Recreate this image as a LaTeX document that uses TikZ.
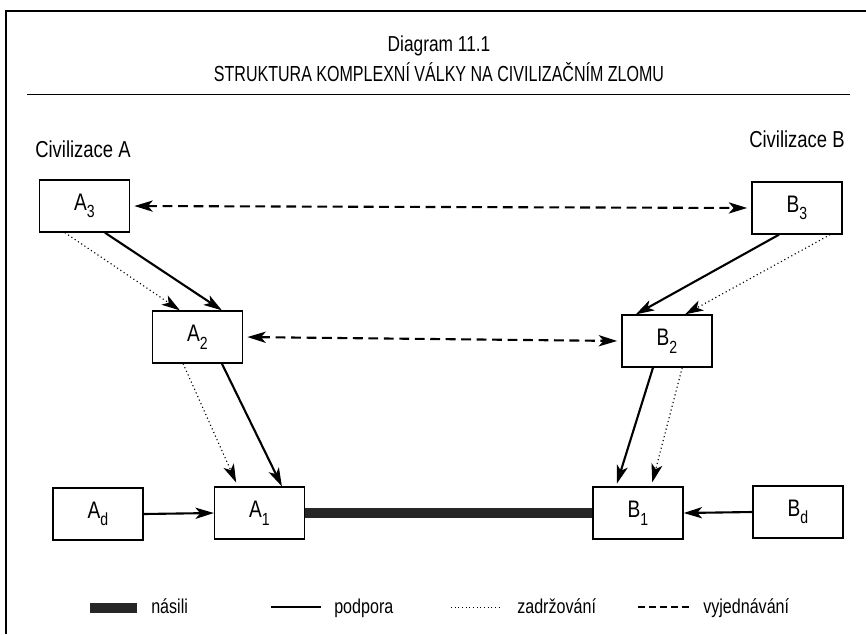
\documentclass[tikz,border=0pt]{standalone}
\usepackage{fontspec}
\setmainfont{Liberation Sans}[FakeStretch=0.8]
\usepackage{tikz}
\usetikzlibrary{arrows.meta,positioning,calc}
\newcommand{\sbs}[1]{\raisebox{-0.32em}{\fontsize{12.5}{13}\selectfont #1}}

\begin{document}
\begin{tikzpicture}[x=0.025cm, y=-0.025cm,
  box/.style={rectangle, draw=black, line width=0.9pt, minimum width=2.25cm, minimum height=1.3cm, inner sep=0pt, font=\fontsize{17}{19}\selectfont},
  legtxt/.style={anchor=base west, inner sep=0pt, font=\fontsize{14.3}{16}\selectfont},
  civtxt/.style={anchor=base west, inner sep=0pt, font=\fontsize{16.4}{18}\selectfont},
  tip/.style={-{Stealth[length=4.6mm,width=2.8mm,inset=1.2mm]}},
  podpora/.style={tip, line width=1.5pt},
  zadrz/.style={tip, line width=0.8pt, dash pattern=on 0.8pt off 2pt},
  vyjedn/.style={{Stealth[length=4.6mm,width=2.8mm,inset=1.2mm]}-{Stealth[length=4.6mm,width=2.8mm,inset=1.2mm]}, line width=1.5pt, dash pattern=on 7pt off 4pt, shorten <=3pt, shorten >=3pt},
  nasili/.style={line width=7.5pt, black!85}]
\useasboundingbox (0,0) rectangle (866,634);

% frame and title
\draw [line width=1pt] (6,634) -- (6,11) -- (866,11);
\node (ttl1) [font=\fontsize{15.4}{18}\selectfont] at (439,46) {Diagram 11.1};
\node (ttl2) [font=\fontsize{15.5}{18}\selectfont] at (439,72) {\scalebox{0.92}[1]{STRUKTURA KOMPLEXNÍ VÁLKY NA CIVILIZAČNÍM ZLOMU}};
\draw [line width=0.7pt] (27,94) -- (850,94);

\node (civA) [civtxt] at (35,157) {Civilizace A};
\node (civB) [civtxt] at (749,147) {Civilizace B};

% boxes
\node (A3) [box] at (84.5,206) {A\sbs{3}};
\node (A2) [box] at (197.5,337) {A\sbs{2}};
\node (A1) [box] at (259.5,513) {A\sbs{1}};
\node (Ad) [box] at (98,514) {A\sbs{d}};
\node (B3) [box] at (797,208) {B\sbs{3}};
\node (B2) [box] at (667,341) {B\sbs{2}};
\node (B1) [box] at (638,513) {B\sbs{1}};
\node (Bd) [box] at (798,512) {B\sbs{d}};

% connectors
\draw [nasili] (A1.east) -- (B1.west);
\draw [vyjedn] (A3.east) -- (B3.west);
\draw [vyjedn] (A2.east) -- (B2.west);
\draw [podpora] (Ad.east) -- (A1.west);
\draw [podpora] (Bd.west) -- (B1.east);

\draw [podpora] ([xshift=0.51cm]A3.south) -- ([xshift=0.61cm]A2.north);
\draw [zadrz] ([xshift=-0.49cm]A3.south) -- ([xshift=-0.44cm]A2.north);
\draw [podpora] ([xshift=0.61cm]A2.south) -- ([xshift=0.56cm]A1.north);
\draw [zadrz, shorten >=3pt] ([xshift=-0.36cm]A2.south) -- ([xshift=-0.54cm]A1.north);
\draw [podpora] ([xshift=-0.45cm]B3.south) -- ([xshift=-0.78cm]B2.north);
\draw [zadrz] ([xshift=0.83cm]B3.south) -- ([xshift=0.45cm]B2.north);
\draw [podpora, shorten >=2pt] ([xshift=-0.35cm]B2.south) -- ([xshift=-0.55cm]B1.north);
\draw [zadrz, shorten >=3pt] ([xshift=0.38cm]B2.south) -- ([xshift=0.33cm]B1.north);

% legend
\coordinate (ln0) at (90,608);
\coordinate (ln1) at (137,608);
\node (lnasili) [legtxt] at (151,613) {násili};
\coordinate (lp0) at (271,607);
\coordinate (lp1) at (321,607);
\node (lpodpora) [legtxt] at (334,613) {podpora};
\coordinate (lz0) at (451,607);
\coordinate (lz1) at (501,607);
\node (lzadrz) [legtxt] at (517,613) {zadržování};
\coordinate (lv0) at (638,607);
\coordinate (lv1) at (690,607);
\node (lvyjedn) [legtxt] at (703,613) {vyjednávání};
\draw [nasili] (ln0) -- (ln1);
\draw [line width=1.5pt] (lp0) -- (lp1);
\draw [line width=0.6pt, dash pattern=on 0.6pt off 2pt] (lz0) -- (lz1);
\draw [line width=1.5pt, dash pattern=on 5pt off 2.8pt] (lv0) -- (lv1);
\end{tikzpicture}
\end{document}
